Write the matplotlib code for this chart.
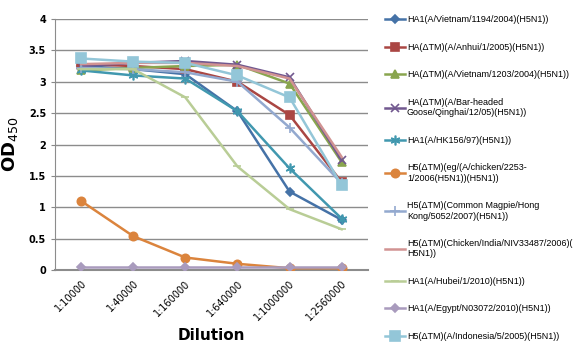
import numpy as np
import matplotlib
matplotlib.use('Agg')
import matplotlib.pyplot as plt

dilucoes = ["1:10000", "1:40000", "1:160000", "1:640000", "1:1000000", "1:2560000"]

nomes = [
    "HA1(A/Vietnam/1194/2004)(H5N1))",
    "HA(ΔTM)(A/Anhui/1/2005)(H5N1))",
    "HA(ΔTM)(A/Vietnam/1203/2004)(H5N1))",
    "HA(ΔTM)(A/Bar-headed\nGoose/Qinghai/12/05)(H5N1))",
    "HA1(A/HK156/97)(H5N1))",
    "H5(ΔTM)(eg/(A/chicken/2253-\n1/2006(H5N1))(H5N1))",
    "H5(ΔTM)(Common Magpie/Hong\nKong/5052/2007)(H5N1))",
    "H5(ΔTM)(Chicken/India/NIV33487/2006)(\nH5N1))",
    "HA1(A/Hubei/1/2010)(H5N1))",
    "HA1(A/Egypt/N03072/2010)(H5N1))",
    "H5(ΔTM)(A/Indonesia/5/2005)(H5N1))",
]

vietnam_1194 = [3.25, 3.20, 3.12, 2.53, 1.25, 0.80]
anhui = [3.28, 3.25, 3.20, 3.00, 2.47, 1.40]
vietnam_1203 = [3.18, 3.22, 3.25, 3.27, 2.97, 1.72]
bar_headed = [3.25, 3.30, 3.33, 3.27, 3.07, 1.75]
hk156 = [3.18, 3.10, 3.05, 2.53, 1.62, 0.82]
chicken_2253 = [1.10, 0.54, 0.20, 0.10, 0.03, 0.03]
magpie = [3.22, 3.20, 3.15, 3.00, 2.27, 1.38]
india = [3.28, 3.30, 3.30, 3.25, 3.05, 1.80]
hubei = [3.20, 3.20, 2.75, 1.65, 0.97, 0.65]
egypt = [0.05, 0.05, 0.05, 0.05, 0.05, 0.05]
indonesia = [3.37, 3.32, 3.30, 3.10, 2.75, 1.35]

series = [vietnam_1194, anhui, vietnam_1203, bar_headed, hk156, chicken_2253,
          magpie, india, hubei, egypt, indonesia]

cores = ['#4572A7', '#AA4643', '#89A54E', '#71588F', '#4198AF', '#DB843D',
         '#93A9CF', '#D19392', '#B9CD96', '#A99BBD', '#93C6D8']
marcadores = ['D', 's', '^', 'x', (6, 2, 0), 'o', '+', None, '_', 'D', 's']
tamanhos = [4, 6, 6, 6, 7, 6, 7, 0, 6, 4, 7]

fig = plt.figure(figsize=(5.8, 3.64), dpi=100)
ax = fig.add_axes([0.095, 0.258, 0.539, 0.69])

x = np.arange(len(dilucoes))
for vals, nome, cor, m, ms in zip(series, nomes, cores, marcadores, tamanhos):
    ax.plot(x, vals, color=cor, lw=1.8, marker=m, markersize=ms,
            markeredgewidth=1.2, label=nome, zorder=3)

ax.set_xlim(-0.5, len(dilucoes) - 0.5)
ax.set_ylim(0, 4)
ax.set_yticks(np.arange(0, 4.01, 0.5))
ax.set_yticklabels(['0', '0.5', '1', '1.5', '2', '2.5', '3', '3.5', '4'],
                   fontsize=7, fontweight='bold')
ax.set_xticks(x)
ax.set_xticklabels(dilucoes, rotation=45, ha='right', rotation_mode='anchor',
                   fontsize=7)
ax.tick_params(axis='x', length=0, pad=6)
ax.tick_params(axis='y', length=3, color='#888888')
ax.grid(axis='y', color='#8c8c8c', lw=1)
ax.set_axisbelow(True)
for lado in ['top', 'right']:
    ax.spines[lado].set_visible(False)
ax.spines['bottom'].set_color('#8c8c8c')
ax.spines['bottom'].set_linewidth(1.5)
ax.spines['left'].set_color('#8c8c8c')

ax.set_ylabel('OD$_{450}$', fontsize=13, fontweight='bold', labelpad=6)
ax.set_xlabel('Dilution', fontsize=11, fontweight='bold', labelpad=4)

fig.legend(loc='upper left', bbox_to_anchor=(0.658, 0.968), frameon=False,
           prop={'family': 'Liberation Sans', 'size': 6.5},
           labelspacing=2.05, handlelength=2.2, handletextpad=0.2,
           borderaxespad=0)

plt.savefig('out.png', dpi=100)
